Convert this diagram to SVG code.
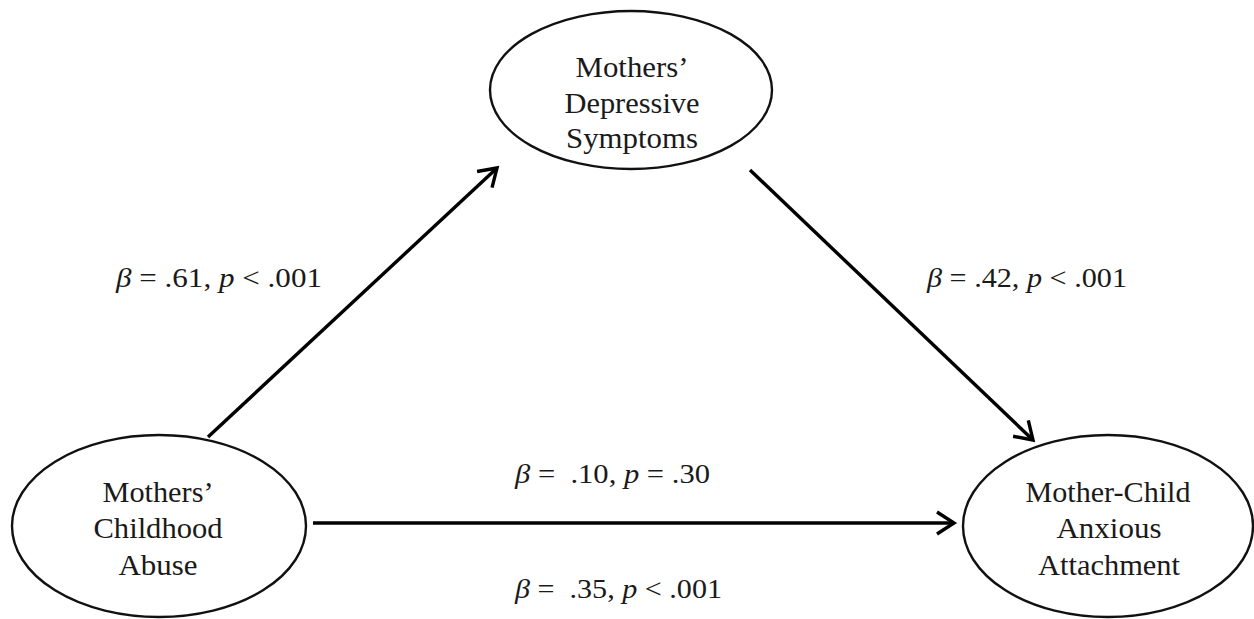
<svg xmlns="http://www.w3.org/2000/svg" width="1254" height="619" viewBox="0 0 1254 619">
<style>
.node{fill:#fff;stroke:#111;stroke-width:2.4}
.nt{font-family:"Liberation Serif","Times New Roman",serif;font-size:28.5px;fill:#1a1a1a;text-anchor:middle}
.lab{font-family:"Liberation Serif","Times New Roman",serif;font-size:27px;fill:#1a1a1a}
.i{font-style:italic}
.conn{stroke:#000;stroke-width:3.4;fill:none}
</style>
<defs>
<marker id="ah" viewBox="-22 -14 26 28" refX="0" refY="0" markerWidth="26" markerHeight="28" markerUnits="userSpaceOnUse" orient="auto">
<path d="M-17,-11 L0,0 L-17,11" fill="none" stroke="#000" stroke-width="3.4" stroke-linejoin="miter"/>
</marker>
</defs>
<rect width="1254" height="619" fill="#fff"/>
<g id="connectors">
<line class="conn" x1="208" y1="437" x2="497" y2="168" marker-end="url(#ah)"/>
<line class="conn" x1="750" y1="170" x2="1033" y2="440" marker-end="url(#ah)"/>
<line class="conn" x1="313" y1="523" x2="954" y2="523" marker-end="url(#ah)"/>
</g>
<g id="node-depressive">
<ellipse class="node" cx="631" cy="90" rx="141" ry="79"/>
<text class="nt" x="632" y="77" textLength="113" lengthAdjust="spacingAndGlyphs">Mothers’</text>
<text class="nt" x="632" y="113" textLength="135" lengthAdjust="spacingAndGlyphs">Depressive</text>
<text class="nt" x="632" y="148" textLength="132" lengthAdjust="spacingAndGlyphs">Symptoms</text>
</g>
<g id="node-abuse">
<ellipse class="node" cx="159" cy="526" rx="147" ry="91"/>
<text class="nt" x="158" y="502" textLength="111" lengthAdjust="spacingAndGlyphs">Mothers’</text>
<text class="nt" x="158" y="538" textLength="129" lengthAdjust="spacingAndGlyphs">Childhood</text>
<text class="nt" x="158" y="575" textLength="79" lengthAdjust="spacingAndGlyphs">Abuse</text>
</g>
<g id="node-attachment">
<ellipse class="node" cx="1108" cy="526" rx="145" ry="91"/>
<text class="nt" x="1108" y="502" textLength="165" lengthAdjust="spacingAndGlyphs">Mother-Child</text>
<text class="nt" x="1109" y="538" textLength="105" lengthAdjust="spacingAndGlyphs">Anxious</text>
<text class="nt" x="1109" y="575" textLength="142" lengthAdjust="spacingAndGlyphs">Attachment</text>
</g>
<g id="labels">
<text class="lab" x="116" y="287" textLength="206" lengthAdjust="spacingAndGlyphs"><tspan class="i">β</tspan> = .61, <tspan class="i">p</tspan> &lt; .001</text>
<text class="lab" x="927" y="287" textLength="200" lengthAdjust="spacingAndGlyphs"><tspan class="i">β</tspan> = .42, <tspan class="i">p</tspan> &lt; .001</text>
<text class="lab" x="515" y="483" textLength="195" lengthAdjust="spacingAndGlyphs" xml:space="preserve"><tspan class="i">β</tspan> =  .10, <tspan class="i">p</tspan> = .30</text>
<text class="lab" x="515" y="598" textLength="207" lengthAdjust="spacingAndGlyphs" xml:space="preserve"><tspan class="i">β</tspan> =  .35, <tspan class="i">p</tspan> &lt; .001</text>
</g>
</svg>
